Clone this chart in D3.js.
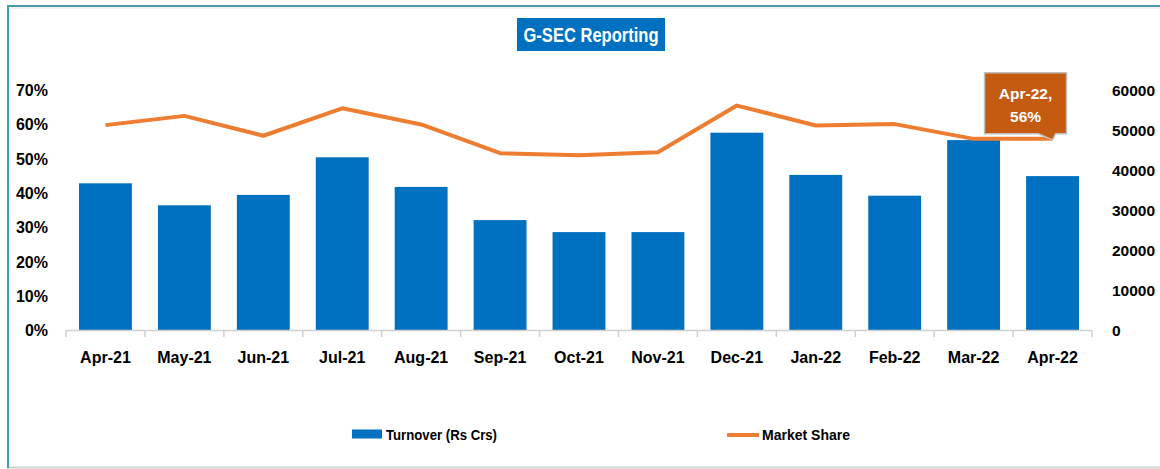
<!DOCTYPE html>
<html lang="en">
<head>
<meta charset="utf-8">
<title>G-SEC Reporting</title>
<style>
body { margin: 0; background: #fff; }
text { font-family: "Liberation Sans", Arial, sans-serif; font-weight: bold; fill: #000; }
</style>
<script src="https://cdn.jsdelivr.net/npm/d3@7/dist/d3.min.js"></script>
</head>
<body>
<script>
// values
var months = ["Apr-21", "May-21", "Jun-21", "Jul-21", "Aug-21", "Sep-21", "Oct-21",
              "Nov-21", "Dec-21", "Jan-22", "Feb-22", "Mar-22", "Apr-22"];
var turnover = [36800, 31300, 33900, 43300, 35900, 27600, 24600,
                24600, 49450, 38900, 33700, 47600, 38600];
var marketShare = [0.599, 0.626, 0.568, 0.648, 0.601, 0.517, 0.511,
                   0.520, 0.656, 0.598, 0.602, 0.559, 0.559];
var shareTicks = [0, 0.1, 0.2, 0.3, 0.4, 0.5, 0.6, 0.7];
var turnoverTicks = [0, 10000, 20000, 30000, 40000, 50000, 60000];

var width = 1160,
    height = 469;

var svg = d3.select("body").append("svg")
    .attr("width", width)
    .attr("height", height);

// frame of the chart area
svg.append("rect").attr("x", 0).attr("y", 0).attr("width", width).attr("height", height).attr("fill", "#fff");
svg.append("line").attr("x1", 7).attr("y1", 467.5).attr("x2", width).attr("y2", 467.5)
    .attr("stroke", "#d0d0d0").attr("stroke-width", 2);
svg.append("line").attr("x1", 10).attr("y1", 8).attr("x2", width).attr("y2", 8)
    .attr("stroke", "#e4e4e4").attr("stroke-width", 1);
svg.append("line").attr("x1", 10).attr("y1", 8).attr("x2", 10).attr("y2", 467)
    .attr("stroke", "#e4e4e4").attr("stroke-width", 1);
svg.append("line").attr("x1", 8).attr("y1", 6).attr("x2", width).attr("y2", 6)
    .attr("stroke", "#4a99b3").attr("stroke-width", 2);
svg.append("line").attr("x1", 8).attr("y1", 5).attr("x2", 8).attr("y2", 468)
    .attr("stroke", "#4a99b3").attr("stroke-width", 2);

// scales
var x = d3.scaleBand().domain(months).range([66, 1092]);
var yL = d3.scaleLinear().domain([0, 0.7]).range([330.5, 90.5]);
var yR = d3.scaleLinear().domain([0, 60000]).range([330.5, 90.5]);
var barW = x.bandwidth() * 0.67;

// title
var title = svg.append("g");
title.append("rect").attr("x", 517).attr("y", 18).attr("width", 148).attr("height", 33).attr("fill", "#0070c0");
title.append("text").attr("x", 591).attr("y", 41.5).attr("text-anchor", "middle")
    .style("font-size", "20px").style("fill", "#fff")
    .attr("textLength", 135).attr("lengthAdjust", "spacingAndGlyphs")
    .text("G-SEC Reporting");

// bars
svg.selectAll("rect.bar")
    .data(turnover)
    .enter()
    .append("rect")
        .attr("class", "bar")
        .attr("x", function(d, i) { return x(months[i]) + (x.bandwidth() - barW) / 2; })
        .attr("y", function(d) { return yR(d); })
        .attr("width", barW)
        .attr("height", function(d) { return yR(0) - yR(d); })
        .attr("fill", "#0070c0");

// x axis line and ticks at category boundaries
svg.append("line").attr("x1", 66).attr("x2", 1092).attr("y1", 330.5).attr("y2", 330.5)
    .attr("stroke", "#d0d0d0").attr("stroke-width", 1.5);
var bounds = months.map(function(m) { return x(m); }).concat([x(months[months.length - 1]) + x.bandwidth()]);
svg.selectAll("line.xtick")
    .data(bounds)
    .enter()
    .append("line")
        .attr("class", "xtick")
        .attr("x1", function(d) { return d; })
        .attr("x2", function(d) { return d; })
        .attr("y1", 330.5)
        .attr("y2", 337)
        .attr("stroke", "#d0d0d0")
        .attr("stroke-width", 1.5);

var xAxis = svg.append("g")
    .attr("transform", "translate(0,330.5)")
    .call(d3.axisBottom(x).tickSize(0).tickPadding(21));
xAxis.select(".domain").remove();
xAxis.selectAll("text").style("font-size", "16px").style("font-family", null).attr("fill", "#000");

var leftAxis = svg.append("g")
    .attr("transform", "translate(48,0)")
    .call(d3.axisLeft(yL).tickValues(shareTicks).tickFormat(d3.format(".0%")).tickSize(0).tickPadding(0));
leftAxis.select(".domain").remove();
leftAxis.selectAll("text").style("font-size", "16px").attr("fill", "#000");

var rightAxis = svg.append("g")
    .attr("transform", "translate(1112,0)")
    .call(d3.axisRight(yR).tickValues(turnoverTicks).tickFormat(d3.format("d")).tickSize(0).tickPadding(0));
rightAxis.select(".domain").remove();
rightAxis.selectAll("text").style("font-size", "15.5px").attr("fill", "#000");

// market share line
var line = d3.line()
    .x(function(d, i) { return x(months[i]) + x.bandwidth() / 2; })
    .y(function(d) { return yL(d); });
svg.append("path")
    .datum(marketShare)
    .attr("d", line)
    .attr("fill", "none")
    .attr("stroke", "#ed7d31")
    .attr("stroke-width", 4)
    .attr("stroke-linejoin", "round");

// callout on the last point
var last = months.length - 1;
var px = x(months[last]) + x.bandwidth() / 2,
    py = yL(marketShare[last]);
var bx0 = px - 68, bx1 = px + 14, by0 = py - 66, by1 = py - 5;
var callout = svg.append("g");
callout.append("path")
    .attr("d", "M" + bx0 + "," + by0 + "H" + bx1 + "V" + by1 + "H" + (px + 3) +
               "L" + px + "," + (py + 1) + "L" + (px - 14) + "," + by1 + "H" + bx0 + "Z")
    .attr("fill", "#c55a11")
    .attr("stroke", "#bfbfbf")
    .attr("stroke-width", 1.5);
callout.append("text").attr("x", (bx0 + bx1) / 2).attr("y", by0 + 26).attr("text-anchor", "middle")
    .style("font-size", "15.5px").style("fill", "#fff").text(months[last] + ",");
callout.append("text").attr("x", (bx0 + bx1) / 2).attr("y", by0 + 49).attr("text-anchor", "middle")
    .style("font-size", "15.5px").style("fill", "#fff").text(d3.format(".0%")(marketShare[last]));

// legend
var legend = svg.append("g");
legend.append("rect").attr("x", 352).attr("y", 429.5).attr("width", 30).attr("height", 9).attr("fill", "#0070c0");
legend.append("text").attr("x", 386).attr("y", 440).style("font-size", "15.5px")
    .attr("textLength", 111).attr("lengthAdjust", "spacingAndGlyphs").text("Turnover (Rs Crs)");
legend.append("line").attr("x1", 727).attr("x2", 759).attr("y1", 435).attr("y2", 435)
    .attr("stroke", "#ed7d31").attr("stroke-width", 4);
legend.append("text").attr("x", 762).attr("y", 440).style("font-size", "15.5px")
    .attr("textLength", 88).attr("lengthAdjust", "spacingAndGlyphs").text("Market Share");
</script>
</body>
</html>
